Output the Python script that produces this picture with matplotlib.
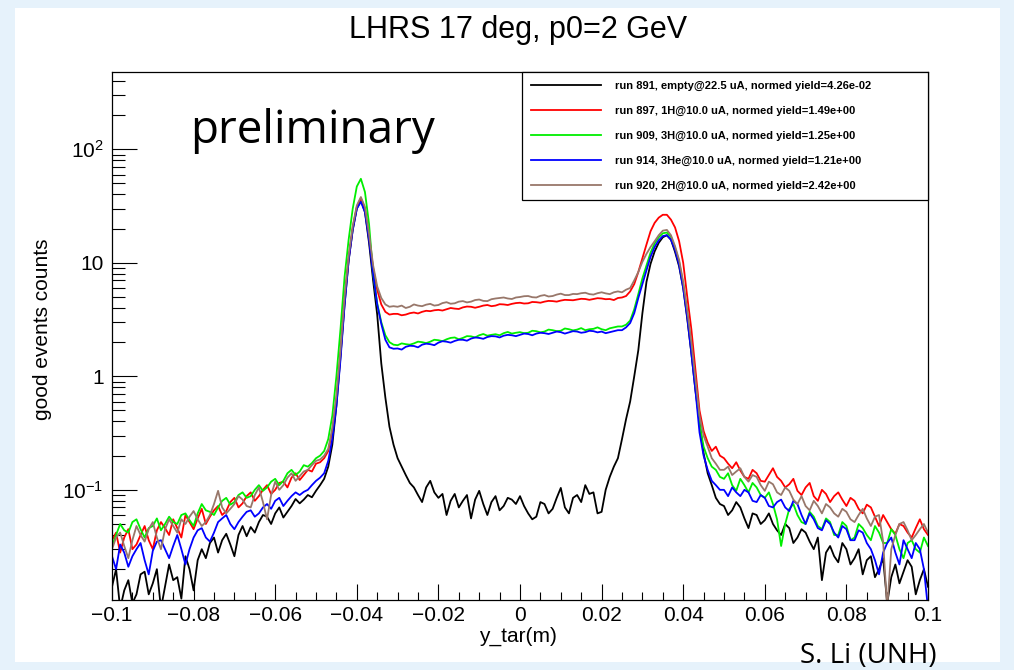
import numpy as np
import matplotlib
matplotlib.use("Agg")
import matplotlib.pyplot as plt
from matplotlib.patches import Rectangle
from matplotlib.ticker import FixedLocator, FixedFormatter, MultipleLocator, LogLocator, NullFormatter

plt.rcParams['font.family'] = ['Liberation Sans', 'DejaVu Sans']
plt.rcParams['mathtext.default'] = 'regular'

# ── 1. Data ──────────────────────────────────────────────────────────────────
# bin centres -0.100 ... 0.100 in 0.001 steps (201 bins)
y_tar = np.round(np.arange(-0.100, 0.1005, 0.001), 3)

# each run: left tail (-0.100..-0.048), left peak (-0.047..-0.031),
# plateau (-0.030..0.024), right peak (0.025..0.049), right tail (0.050..0.100)
run891_empty = [
    0.014, 0.020, 0.009, 0.013, 0.016, 0.010, 0.012, 0.018, 0.019, 0.012, 0.015, 0.020, 0.009, 0.014,
    0.022, 0.016, 0.017, 0.011, 0.026, 0.020, 0.013, 0.024, 0.030, 0.025, 0.034, 0.038, 0.028, 0.036,
    0.041, 0.033, 0.026, 0.040, 0.048, 0.039, 0.047, 0.042, 0.052, 0.060, 0.058, 0.050, 0.062, 0.070,
    0.057, 0.064, 0.072, 0.083, 0.076, 0.082, 0.090, 0.086, 0.098, 0.110, 0.125,
    0.16, 0.25, 0.55, 1.5, 4.3, 10.5, 19.5, 30, 36, 28, 15, 7.0, 3.5, 1.3, 0.65, 0.36, 0.25,
    0.19, 0.16, 0.135, 0.115, 0.105, 0.090, 0.078, 0.105, 0.12, 0.095, 0.085, 0.092, 0.060, 0.080,
    0.092, 0.070, 0.080, 0.090, 0.056, 0.082, 0.098, 0.075, 0.060, 0.078, 0.088, 0.066, 0.072, 0.085,
    0.082, 0.075, 0.088, 0.072, 0.062, 0.055, 0.058, 0.078, 0.075, 0.062, 0.068, 0.085, 0.104, 0.070,
    0.062, 0.085, 0.090, 0.078, 0.110, 0.092, 0.095, 0.062, 0.064, 0.100, 0.13, 0.16, 0.19,
    0.28, 0.42, 0.60, 1.0, 1.7, 3.6, 6.8, 9.8, 12.6, 15, 16.8, 17.5, 16, 12.5, 9.3, 6.0, 3.2, 1.6,
    0.75, 0.40, 0.21, 0.14, 0.11, 0.085, 0.075,
    0.072, 0.060, 0.066, 0.078, 0.070, 0.056, 0.046, 0.062, 0.060, 0.050, 0.054, 0.062, 0.050, 0.044,
    0.040, 0.050, 0.046, 0.034, 0.038, 0.045, 0.042, 0.035, 0.030, 0.038, 0.016, 0.028, 0.032, 0.026,
    0.023, 0.034, 0.030, 0.022, 0.025, 0.030, 0.018, 0.024, 0.026, 0.017, 0.020, 0.025, 0.010, 0.017,
    0.022, 0.015, 0.019, 0.024, 0.021, 0.012, 0.016, 0.020, 0.014,
]
run897_1H = [
    0.036, 0.042, 0.028, 0.038, 0.045, 0.030, 0.033, 0.040, 0.048, 0.036, 0.030, 0.044, 0.052, 0.046,
    0.040, 0.055, 0.046, 0.038, 0.060, 0.052, 0.045, 0.056, 0.068, 0.050, 0.058, 0.066, 0.072, 0.060,
    0.065, 0.078, 0.085, 0.070, 0.076, 0.088, 0.095, 0.080, 0.088, 0.100, 0.110, 0.092, 0.100, 0.115,
    0.118, 0.105, 0.128, 0.140, 0.122, 0.135, 0.150, 0.145, 0.170, 0.175, 0.190,
    0.22, 0.33, 0.62, 1.6, 4.8, 11, 20.5, 31, 37, 30, 17, 9.0, 5.8, 4.3, 3.7, 3.5, 3.55,
    3.55, 3.45, 3.5, 3.6, 3.65, 3.58, 3.7, 3.78, 3.75, 3.82, 3.85, 3.8, 3.9, 4.0,
    3.95, 3.92, 4.05, 4.12, 4.1, 4.02, 4.1, 4.2, 4.25, 4.15, 4.2, 4.32, 4.3, 4.25,
    4.35, 4.42, 4.45, 4.38, 4.4, 4.52, 4.5, 4.45, 4.55, 4.62, 4.6, 4.55, 4.65, 4.72,
    4.7, 4.68, 4.75, 4.82, 4.8, 4.72, 4.8, 4.88, 4.85, 4.78, 4.8, 4.7, 4.9,
    4.95, 5.1, 5.6, 6.5, 8.3, 11, 14.5, 19, 22.5, 25, 26.5, 26.5, 24, 20.5, 15.5, 10, 5.0, 2.6,
    1.15, 0.50, 0.33, 0.26, 0.22, 0.24, 0.20,
    0.19, 0.17, 0.155, 0.175, 0.148, 0.130, 0.125, 0.150, 0.14, 0.120, 0.118, 0.135, 0.155, 0.130,
    0.12, 0.105, 0.112, 0.125, 0.098, 0.090, 0.105, 0.115, 0.088, 0.080, 0.100, 0.092, 0.078, 0.088,
    0.095, 0.082, 0.072, 0.085, 0.080, 0.068, 0.062, 0.074, 0.070, 0.058, 0.048, 0.060, 0.052, 0.045,
    0.041, 0.050, 0.048, 0.042, 0.038, 0.046, 0.055, 0.045, 0.040,
]
run909_3H = [
    0.032, 0.040, 0.050, 0.044, 0.042, 0.052, 0.055, 0.045, 0.038, 0.046, 0.048, 0.056, 0.044, 0.050,
    0.058, 0.052, 0.050, 0.060, 0.062, 0.054, 0.048, 0.062, 0.075, 0.066, 0.064, 0.060, 0.070, 0.080,
    0.085, 0.074, 0.078, 0.090, 0.095, 0.085, 0.088, 0.100, 0.110, 0.098, 0.105, 0.118, 0.125, 0.110,
    0.120, 0.140, 0.150, 0.135, 0.145, 0.165, 0.160, 0.172, 0.190, 0.200, 0.220,
    0.28, 0.45, 1.0, 2.6, 7.5, 16, 30, 47, 55, 42, 22, 8.0, 4.4, 3.0, 2.3, 2.0, 1.9,
    1.88, 1.95, 1.92, 1.9, 1.95, 2.02, 2.0, 1.96, 2.02, 2.1, 2.08, 2.04, 2.12, 2.18,
    2.2, 2.12, 2.18, 2.26, 2.25, 2.2, 2.3, 2.36, 2.28, 2.32, 2.35, 2.3, 2.4, 2.46,
    2.38, 2.42, 2.45, 2.4, 2.42, 2.52, 2.5, 2.44, 2.48, 2.58, 2.55, 2.5, 2.52, 2.64,
    2.6, 2.54, 2.58, 2.66, 2.55, 2.6, 2.62, 2.7, 2.6, 2.55, 2.65, 2.7, 2.75,
    2.75, 2.85, 3.1, 3.9, 5.3, 7.3, 9.5, 12.3, 14.8, 16.8, 18.2, 18.5, 17, 13.6, 10.2, 6.5, 3.6, 1.8,
    0.85, 0.38, 0.24, 0.19, 0.16, 0.15, 0.13,
    0.125, 0.140, 0.11, 0.098, 0.125, 0.110, 0.095, 0.115, 0.105, 0.090, 0.085, 0.095, 0.075, 0.055,
    0.032, 0.050, 0.068, 0.075, 0.060, 0.052, 0.050, 0.064, 0.058, 0.048, 0.045, 0.056, 0.052, 0.040,
    0.040, 0.052, 0.048, 0.036, 0.038, 0.050, 0.046, 0.040, 0.036, 0.048, 0.042, 0.034, 0.034, 0.045,
    0.040, 0.030, 0.025, 0.034, 0.036, 0.030, 0.028, 0.038, 0.032,
]
run914_3He = [
    0.026, 0.020, 0.033, 0.028, 0.021, 0.026, 0.030, 0.034, 0.024, 0.018, 0.029, 0.035, 0.036, 0.030,
    0.025, 0.032, 0.040, 0.030, 0.022, 0.030, 0.038, 0.044, 0.046, 0.038, 0.035, 0.042, 0.052, 0.056,
    0.060, 0.050, 0.045, 0.052, 0.058, 0.064, 0.066, 0.058, 0.062, 0.070, 0.075, 0.068, 0.080, 0.085,
    0.072, 0.080, 0.088, 0.095, 0.090, 0.096, 0.100, 0.110, 0.120, 0.128, 0.140,
    0.18, 0.28, 0.55, 1.4, 4.2, 10.5, 19.5, 30, 34.5, 28, 16, 8.0, 4.3, 2.9, 2.1, 1.8, 1.75,
    1.76, 1.72, 1.82, 1.86, 1.85, 1.8, 1.9, 1.94, 1.92, 1.88, 1.98, 2.04, 2.02, 1.98,
    2.05, 2.1, 2.1, 2.06, 2.15, 2.2, 2.18, 2.14, 2.22, 2.26, 2.25, 2.2, 2.28, 2.32,
    2.3, 2.26, 2.32, 2.38, 2.36, 2.3, 2.38, 2.42, 2.4, 2.36, 2.42, 2.48, 2.45, 2.38,
    2.44, 2.5, 2.48, 2.42, 2.45, 2.52, 2.5, 2.44, 2.48, 2.4, 2.45, 2.5, 2.55,
    2.55, 2.7, 2.95, 3.6, 4.9, 6.5, 8.6, 11.3, 13.8, 15.8, 17.2, 17.5, 16, 13, 9.6, 6.0, 3.3, 1.6,
    0.75, 0.32, 0.20, 0.15, 0.12, 0.11, 0.10,
    0.10, 0.088, 0.105, 0.095, 0.088, 0.100, 0.095, 0.080, 0.078, 0.090, 0.085, 0.072, 0.070, 0.078,
    0.082, 0.070, 0.065, 0.080, 0.075, 0.060, 0.050, 0.062, 0.055, 0.046, 0.044, 0.054, 0.050, 0.042,
    0.038, 0.048, 0.045, 0.036, 0.036, 0.044, 0.042, 0.034, 0.030, 0.024, 0.018, 0.028, 0.034, 0.038,
    0.028, 0.022, 0.036, 0.030, 0.025, 0.034, 0.030, 0.020, 0.009,
]
run920_2H = [
    0.030, 0.038, 0.042, 0.032, 0.025, 0.036, 0.048, 0.040, 0.035, 0.045, 0.052, 0.038, 0.030, 0.045,
    0.055, 0.048, 0.042, 0.055, 0.050, 0.058, 0.065, 0.055, 0.048, 0.052, 0.060, 0.075, 0.098, 0.070,
    0.062, 0.068, 0.075, 0.088, 0.082, 0.072, 0.070, 0.090, 0.105, 0.078, 0.055, 0.090, 0.118, 0.100,
    0.110, 0.128, 0.140, 0.120, 0.132, 0.145, 0.150, 0.165, 0.180, 0.185, 0.200,
    0.23, 0.35, 0.68, 1.7, 5.0, 11.5, 21, 32, 38, 31, 18, 9.5, 6.2, 4.9, 4.3, 4.1, 4.15,
    4.1, 4.2, 4.0, 4.1, 4.3, 4.2, 4.15, 4.28, 4.35, 4.2, 4.25, 4.42, 4.5, 4.36,
    4.4, 4.55, 4.6, 4.48, 4.55, 4.7, 4.75, 4.62, 4.6, 4.78, 4.85, 4.9, 4.95, 4.85,
    4.8, 4.95, 5.0, 5.08, 5.1, 4.98, 4.95, 5.12, 5.2, 5.05, 5.1, 5.25, 5.35, 5.2,
    5.2, 5.32, 5.3, 5.4, 5.45, 5.3, 5.25, 5.4, 5.5, 5.38, 5.3, 5.5, 5.6,
    5.5, 5.8, 6.0, 7.0, 8.3, 10.2, 12, 13.8, 15.5, 17.5, 19.2, 19.5, 17.5, 14, 10.6, 6.8, 3.8, 2.0,
    0.95, 0.45, 0.30, 0.24, 0.19, 0.17, 0.15,
    0.15, 0.16, 0.135, 0.145, 0.155, 0.130, 0.118, 0.135, 0.13, 0.110, 0.098, 0.118, 0.112, 0.095,
    0.090, 0.105, 0.098, 0.082, 0.075, 0.088, 0.072, 0.066, 0.080, 0.072, 0.062, 0.075, 0.070, 0.062,
    0.058, 0.068, 0.064, 0.055, 0.052, 0.060, 0.068, 0.056, 0.048, 0.058, 0.060, 0.035, 0.009, 0.030,
    0.040, 0.050, 0.052, 0.044, 0.036, 0.040, 0.045, 0.050, 0.042,
]

runs = [run891_empty, run897_1H, run909_3H, run914_3He, run920_2H]
labels = [
    "run 891, empty@22.5 uA, normed yield=4.26e-02",
    "run 897, 1H@10.0 uA, normed yield=1.49e+00",
    "run 909, 3H@10.0 uA, normed yield=1.25e+00",
    "run 914, 3He@10.0 uA, normed yield=1.21e+00",
    "run 920, 2H@10.0 uA, normed yield=2.42e+00",
]
colors = ['black', '#ff0000', '#00ee00', '#0000ff', '#98776a']

xtick_values = [-0.1, -0.08, -0.06, -0.04, -0.02, 0, 0.02, 0.04, 0.06, 0.08, 0.1]
xtick_labels = ['\u22120.1', '\u22120.08', '\u22120.06', '\u22120.04', '\u22120.02', '0',
                '0.02', '0.04', '0.06', '0.08', '0.1']
ytick_values = [0.1, 1, 10, 100]
ytick_labels = ['$10^{-1}$', '1', '10', '$10^{2}$']

for r in runs:
    assert len(r) == len(y_tar), len(r)

# ── 2. Figure ────────────────────────────────────────────────────────────────
W, H = 1014, 670
fig = plt.figure(figsize=(W / 100, H / 100), dpi=100)
fig.patch.set_facecolor('#e6f2fb')
# white slide area
fig.add_artist(Rectangle((15 / W, 1 - 662 / H), 985 / W, 654 / H, transform=fig.transFigure,
                         facecolor='white', edgecolor='none', zorder=-1))

ax = fig.add_axes([112 / W, 1 - 600 / H, 816 / W, 528 / H])

for vals, c, lab in zip(runs, colors, labels):
    ax.plot(y_tar, vals, color=c, lw=1.3, label=lab)

ax.set_yscale('log')
ax.set_xlim(-0.1, 0.1)
ax.set_ylim(0.0107, 480)

ax.xaxis.set_major_locator(FixedLocator(xtick_values))
ax.xaxis.set_major_formatter(FixedFormatter(xtick_labels))
ax.xaxis.set_minor_locator(MultipleLocator(0.005))
ax.yaxis.set_major_locator(FixedLocator(ytick_values))
ax.yaxis.set_major_formatter(FixedFormatter(ytick_labels))
ax.yaxis.set_minor_locator(LogLocator(base=10, subs=np.arange(2, 10)))
ax.yaxis.set_minor_formatter(NullFormatter())

ax.tick_params(which='both', direction='in', top=False, right=False, width=0.8, labelsize=15)
ax.tick_params(axis='x', which='major', length=11.5, pad=4)
ax.tick_params(axis='x', which='minor', length=5.8)
ax.tick_params(axis='y', which='major', length=18, pad=6)
ax.tick_params(axis='y', which='minor', length=9)
for s in ax.spines.values():
    s.set_linewidth(0.9)

ax.set_xlabel("y_tar(m)", fontsize=15)
ax.xaxis.set_label_coords((518 - 112) / 816, -0.05)
ax.set_ylabel("good events counts", fontsize=15)
ax.yaxis.set_label_coords(-0.074, (600 - 329) / 528)

leg = ax.legend(loc='upper left', bbox_to_anchor=(0.502, 0.758, 0.498, 0.242), mode='expand',
                borderaxespad=0, fancybox=False, framealpha=1, edgecolor='black',
                prop={'family': 'Liberation Sans', 'weight': 'bold', 'size': 8},
                handlelength=6.3, handletextpad=1.3, labelspacing=1.35, borderpad=0.8)
leg.get_frame().set_linewidth(0.9)

fig.text(518 / W, 1 - 30 / H, "LHRS 17 deg, p0=2 GeV", ha='center', va='center', fontsize=22)
fig.text(190 / W, 1 - 143 / H, "preliminary", ha='left', va='baseline', fontsize=33,
         family='Open Sans')
fig.text(800 / W, 1 - 663 / H, "S. Li (UNH)", ha='left', va='baseline', fontsize=20,
         family='Open Sans')

plt.savefig("out.png", dpi=100, facecolor=fig.get_facecolor())
